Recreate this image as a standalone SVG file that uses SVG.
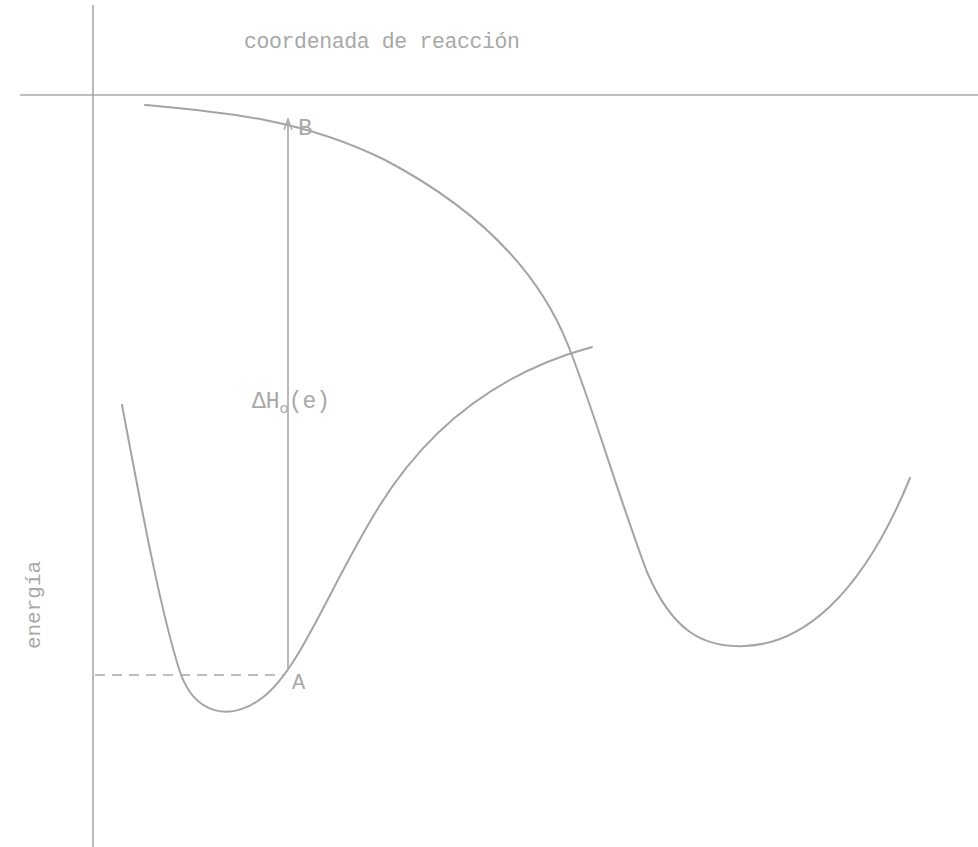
<svg xmlns="http://www.w3.org/2000/svg" width="978" height="847" viewBox="0 0 978 847">
<defs>
<style>
.ax{stroke:#a8a8a8;stroke-width:1.6;fill:none}
.cv{stroke:#a4a4a4;stroke-width:2;fill:none;stroke-linecap:round}
.lb{font-family:"Liberation Mono",monospace;fill:#a8a8a8}
</style>
<marker id="ah" markerWidth="14" markerHeight="12" refX="12" refY="6" orient="auto" markerUnits="userSpaceOnUse">
<path d="M1,2 L12,6 L1,10" fill="none" stroke="#a8a8a8" stroke-width="1.4"/>
</marker>
</defs>
<rect width="978" height="847" fill="#ffffff"/>
<g id="axes">
<line class="ax" x1="93" y1="5" x2="93" y2="847"/>
<line class="ax" x1="20" y1="95" x2="978" y2="95"/>
</g>
<g id="title"><text class="lb" x="244" y="48" font-size="21.5" textLength="276">coordenada de reacción</text></g>
<g id="ylabel"><text class="lb" font-size="21" transform="translate(40,605) rotate(-90)" text-anchor="middle">energía</text></g>
<g id="curveB">
<path class="cv" d="M145,105 C220,112 300,118 385,160 C465,202 535,262 568,345 C592,405 617,492 647,572 C672,630 702,648 745,646 C800,644 860,600 910,478"/>
</g>
<g id="curveA">
<path class="cv" d="M122,405 C140,500 160,610 180,672 C195,715 230,722 262,698 C300,670 330,585 380,505 C430,425 500,372 592,347"/>
</g>
<g id="connectors">
<line class="ax" x1="288" y1="668" x2="288" y2="119" marker-end="url(#ah)"/>
<line class="ax" x1="95" y1="675" x2="285" y2="675" stroke-dasharray="10,7"/>
</g>
<g id="labels">
<text class="lb" x="298" y="135" font-size="24">B</text>
<text class="lb" x="292" y="689" font-size="22">A</text>
<text class="lb" x="252" y="408" font-size="23">ΔH<tspan font-size="15" dy="5">o</tspan><tspan dy="-5">(e)</tspan></text>
</g>
</svg>
